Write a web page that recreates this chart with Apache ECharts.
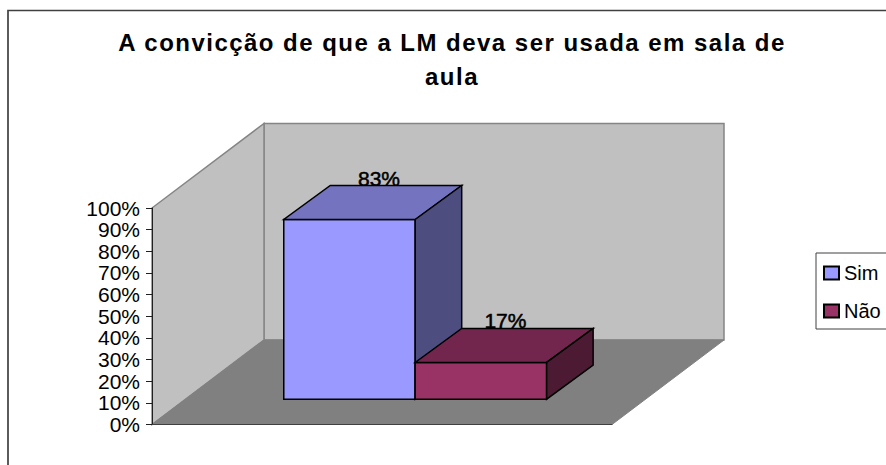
<!DOCTYPE html>
<html>
<head>
<meta charset="utf-8">
<style>
html,body{margin:0;padding:0;background:#fff;overflow:hidden}
#chart{width:886px;height:465px}
#chart svg text[style*="bold"]{letter-spacing:1.47px}
</style>
<script src="https://cdn.jsdelivr.net/npm/echarts@6/dist/echarts.min.js"></script>
</head>
<body>
<div id="chart"></div>
<script>
const titleText = 'A convicção de que a LM deva ser usada em sala de\naula';
const categories = [''];
const simValues = [83];
const naoValues = [17];
const seriesNames = ['Sim', 'Não'];
const yMin = 0, yMax = 100, yStep = 10;

const FONT = '"Liberation Sans", Arial, sans-serif';
const WALL_DEPTH = [112, -84.5];
const BAR_SHIFT = [33.2, -25.3];
const BAR_DEPTH = [46.5, -34];
const GAP_WIDTH = 1.5;
const palette = [
  {front:'#9999FF', top:'#7373BF', side:'#4D4D80', labelDx:-17},
  {front:'#993366', top:'#73264D', side:'#4D1A33', labelDx:-22}
];

function wallsRender(params, api) {
  const c = params.coordSys;
  const [dx, dy] = WALL_DEPTH;
  const L = c.x, R = c.x + c.width, T = c.y, B = c.y + c.height;
  const edge = {stroke:'#858585', lineWidth:1.5};
  return {type:'group', children:[
    {type:'polygon', shape:{points:[[L+dx,T+dy],[R+dx,T+dy],[R+dx,B+dy],[L+dx,B+dy]]},
      style:Object.assign({fill:'#C0C0C0'}, edge)},
    {type:'polygon', shape:{points:[[L,T],[L+dx,T+dy],[L+dx,B+dy],[L,B]]},
      style:Object.assign({fill:'#C0C0C0'}, edge)},
    {type:'polygon', shape:{points:[[L,B],[R,B],[R+dx,B+dy],[L+dx,B+dy]]},
      style:{fill:'#808080', stroke:'#808080', lineWidth:1}}
  ]};
}

function barRender(seriesPos) {
  return function (params, api) {
    const pal = palette[seriesPos];
    const v = api.value(1);
    const top = api.coord([api.value(0), v]);
    const base = api.coord([api.value(0), 0]);
    const bw = api.size([1, 0])[0] / (seriesNames.length + GAP_WIDTH);
    const x0 = top[0] + (seriesPos - 1) * bw + BAR_SHIFT[0];
    const x1 = x0 + bw;
    const yB = base[1] + BAR_SHIFT[1];
    const yT = top[1] + BAR_SHIFT[1];
    const [dx, dy] = BAR_DEPTH;
    const line = {stroke:'#000', lineWidth:1.5, lineJoin:'miter'};
    return {type:'group', children:[
      {type:'text', style:{
        text:v + '%', x:(x0+x1)/2 + dx + pal.labelDx, y:yT + dy - 7.5,
        align:'center', verticalAlign:'middle',
        font:'500 21px ' + FONT, fill:'#000', stroke:'#000', lineWidth:0.5}},
      {type:'polygon', shape:{points:[[x0,yT],[x1,yT],[x1,yB],[x0,yB]]},
        style:Object.assign({fill:pal.front}, line)},
      {type:'polygon', shape:{points:[[x0,yT],[x1,yT],[x1+dx,yT+dy],[x0+dx,yT+dy]]},
        style:Object.assign({fill:pal.top}, line)},
      {type:'polygon', shape:{points:[[x1,yT],[x1+dx,yT+dy],[x1+dx,yB+dy],[x1,yB]]},
        style:Object.assign({fill:pal.side}, line)}
    ]};
  };
}

const chart = echarts.init(document.getElementById('chart'), null, {renderer:'svg'});
chart.setOption({
  animation:false,
  backgroundColor:'#fff',
  graphic:[{type:'rect', silent:true, z:-1,
    shape:{x:8, y:10.5, width:1000, height:1000},
    style:{fill:'#fff', stroke:'#404040', lineWidth:1.7}}],
  title:{
    text:titleText, left:447, top:20, textAlign:'center',
    textStyle:{fontFamily:FONT, fontWeight:'bold', fontSize:24, lineHeight:34, color:'#000'}
  },
  legend:{
    data:seriesNames, orient:'vertical', left:816, top:253,
    padding:[9, 100, 7, 7], itemGap:16, itemWidth:15, itemHeight:13,
    icon:'rect', borderColor:'#404040', borderWidth:1, backgroundColor:'#fff',
    textStyle:{fontFamily:FONT, fontSize:20, color:'#000', lineHeight:22}
  },
  grid:{left:152, right:274, top:208, bottom:40.5},
  xAxis:{type:'category', data:categories, z:10,
    axisLine:{lineStyle:{color:'#404040', width:1}},
    axisTick:{show:false}, axisLabel:{show:false}, splitLine:{show:false}},
  yAxis:{type:'value', min:yMin, max:yMax, interval:yStep, z:10,
    axisLine:{show:true, lineStyle:{color:'#202020', width:1}},
    axisTick:{show:true, length:6, lineStyle:{color:'#202020', width:1}},
    splitLine:{show:false},
    axisLabel:{formatter:'{value}%', margin:12, fontFamily:FONT, fontSize:21, color:'#000'}},
  series:[
    {type:'custom', name:'walls', silent:true, z:1, data:[[0, yMax]], renderItem:wallsRender,
     encode:{x:0, y:1}},
    {type:'custom', name:seriesNames[0], z:2, data:categories.map((c,i)=>[i, simValues[i]]),
     renderItem:barRender(0), encode:{x:0, y:1},
     itemStyle:{color:palette[0].front, borderColor:'#000', borderWidth:1.5}},
    {type:'custom', name:seriesNames[1], z:3, data:categories.map((c,i)=>[i, naoValues[i]]),
     renderItem:barRender(1), encode:{x:0, y:1},
     itemStyle:{color:palette[1].front, borderColor:'#000', borderWidth:1.5}}
  ]
});
</script>
</body>
</html>
